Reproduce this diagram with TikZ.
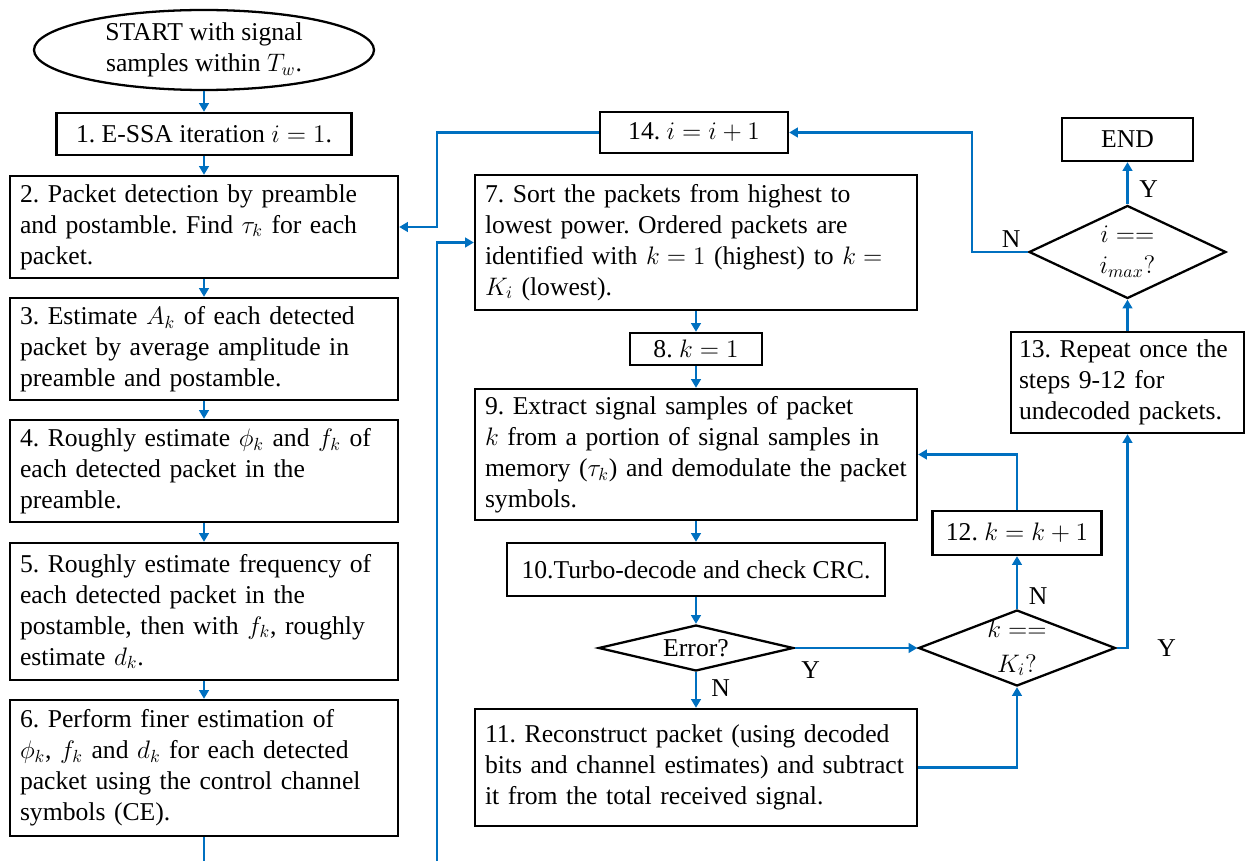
\documentclass[tikz,border=0pt]{standalone}
\usepackage{fontspec}
\setmainfont{Liberation Serif}
\usetikzlibrary{shapes.geometric, arrows.meta}
\definecolor{flowblue}{RGB}{0, 112, 192}
\frenchspacing

\tikzset{
  stepbox/.style={draw, line width=1.3pt, rectangle, inner xsep=0.2cm, inner ysep=0pt, align=left},
  linebox/.style={draw, line width=1.3pt, rectangle, inner sep=0pt, align=center},
  decision/.style={draw, line width=1.3pt, diamond, inner sep=0pt},
  flow/.style={draw=flowblue, line width=1.6pt, -{Triangle[length=5pt, width=5.5pt]}},
  flowline/.style={draw=flowblue, line width=1.6pt},
  yn/.style={inner sep=2pt}
}

\begin{document}
\begin{tikzpicture}[font=\fontsize{14.6pt}{17.6pt}\selectfont]
  \useasboundingbox (0,0) rectangle (25.02,17.22);

  % Left column: steps 1-6 (boxes 7.76 cm wide, centred at x=4.08)
  \node[ellipse, draw, line width=1.3pt, inner sep=0pt, minimum width=6.8cm, minimum height=1.6cm, align=center] (start) at (4.08, 16.22) {START with signal\\samples within $T_w$.};
  \node[linebox, minimum width=5.9cm, minimum height=0.84cm] (s1) at (4.08, 14.54) {1. E-SSA iteration $i=1$.};
  \node[stepbox, text width=7.36cm, minimum height=2.04cm] (s2) at (4.08, 12.68) {2. Packet detection by preamble\\and postamble. Find $\tau_k$ for each\\packet.};
  \node[stepbox, text width=7.36cm, minimum height=2.04cm] (s3) at (4.08, 10.24) {3. Estimate $A_k$ of each detected\\packet by average amplitude in\\preamble and postamble.};
  \node[stepbox, text width=7.36cm, minimum height=2.04cm] (s4) at (4.08, 7.80) {4. Roughly estimate $\phi_k$ and $f_k$ of\\each detected packet in the\\preamble.};
  \node[stepbox, text width=7.36cm, minimum height=2.74cm] (s5) at (4.08, 4.99) {5. Roughly estimate frequency of\\each detected packet in the\\postamble, then with $f_k$, roughly\\estimate $d_k$.};
  \node[stepbox, text width=7.36cm, minimum height=2.72cm] (s6) at (4.08, 1.86) {6. Perform finer estimation of\\$\phi_k$, $f_k$ and $d_k$ for each detected\\packet using the control channel\\symbols (CE).};
  \coordinate (s6out) at (4.08, 0);

  % Middle column: steps 7-11 and 14 (centred at x=13.92)
  \node[linebox, minimum width=3.76cm, minimum height=0.82cm] (s14) at (13.88, 14.57) {14. $i=i+1$};
  \node[stepbox, text width=8.44cm, minimum height=2.7cm] (s7) at (13.92, 12.37) {7. Sort the packets from highest to\\lowest power. Ordered packets are\\identified with $k=1$ (highest) to $k=$\\$K_i$ (lowest).};
  \node[linebox, minimum width=2.64cm, minimum height=0.64cm] (s8) at (13.92, 10.24) {8. $k=1$};
  \node[stepbox, text width=8.44cm, minimum height=2.62cm] (s9) at (13.92, 8.13) {9. Extract signal samples of packet\\$k$ from a portion of signal samples in\\memory ($\tau_k$) and demodulate the packet\\symbols.};
  \node[linebox, minimum width=7.56cm, minimum height=1.06cm] (s10) at (13.92, 5.83) {10.Turbo-decode and check CRC.};
  \node[decision, minimum width=3.9cm, minimum height=0.92cm, label={center:Error?}] (err) at (13.92, 4.26) {};
  \node[stepbox, text width=8.44cm, minimum height=2.34cm] (s11) at (13.92, 1.87) {11. Reconstruct packet (using decoded\\bits and channel estimates) and subtract\\it from the total received signal.};
  \coordinate (loopin) at (8.74, 0);
  \coordinate (back) at (8.74, 12.68);

  % Right column: loop tests, step 12, step 13 and END
  \node[decision, minimum width=3.94cm, minimum height=1.52cm, label={[align=center]center:$k==$\\[2pt]$K_i?$}] (kdec) at (20.34, 4.26) {};
  \node[linebox, minimum width=3.38cm, minimum height=0.88cm] (s12) at (20.34, 6.56) {12. $k=k+1$};
  \node[stepbox, inner xsep=0.16cm, text width=4.34cm, minimum height=2.02cm] (s13) at (22.55, 9.57) {13. Repeat once the\\steps 9-12 for\\undecoded packets.};
  \node[decision, minimum width=3.94cm, minimum height=1.86cm, label={[align=center]center:$i==$\\$i_{max}?$}] (imax) at (22.55, 12.18) {};
  \node[linebox, minimum width=2.62cm, minimum height=0.86cm] (end) at (22.55, 14.43) {END};
  \coordinate (nturn) at (19.44, 14.57);

  % Connectors
  \draw[flow] (start) -- (s1);
  \draw[flow] (s1) -- (s2);
  \draw[flow] (s2) -- (s3);
  \draw[flow] (s3) -- (s4);
  \draw[flow] (s4) -- (s5);
  \draw[flow] (s5) -- (s6);
  \draw[flowline] (s6) -- (s6out);
  \draw[flow] (loopin) |- (s7.west);
  \draw[flow] (s14.west) -| (back) -- (s2.east);
  \draw[flow] (s7) -- (s8);
  \draw[flow] (s8) -- (s9);
  \draw[flow] (s9) -- (s10);
  \draw[flow] (s10) -- (err);
  \draw[flow] (err) -- node[yn, right=6pt, pos=0.45] {N} (s11);
  \draw[flow] (err) -- node[yn, below=5pt, pos=0.13] {Y} (kdec);
  \draw[flow] (s11.east) -| (kdec.south);
  \draw[flow] (kdec) -- node[yn, right=4pt, pos=0.25] {N} (s12);
  \draw[flow] (s12.north) |- (s9.east);
  \draw[flow] (kdec.east) -| node[yn, pos=0.5, right=0.5cm] {Y} (s13.south);
  \draw[flow] (s13) -- (imax);
  \draw[flow] (imax) -- node[yn, right=4pt, pos=0.35] {Y} (end);
  \draw[flow] (imax.west) -| node[yn, above, pos=0.15] {N} (nturn) -- (s14.east);
\end{tikzpicture}
\end{document}
